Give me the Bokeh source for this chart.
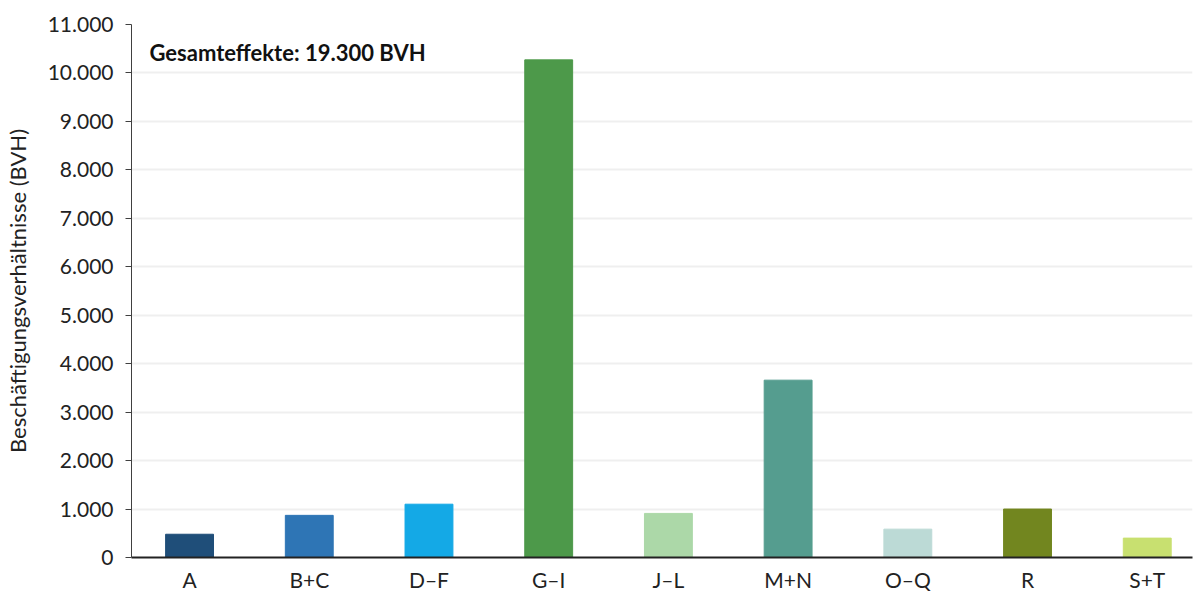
from bokeh.plotting import figure
from bokeh.models import Range1d, FixedTicker, Label, ColumnDataSource
from bokeh.embed import file_html
from bokeh.resources import INLINE

categories = ["A", "B+C", "D–F", "G–I", "J–L", "M+N", "O–Q", "R", "S+T"]
values = [480, 870, 1100, 10270, 910, 3660, 585, 1000, 400]
colors = ["#1f4e79", "#2e75b5", "#14a9e6", "#4d994a", "#acd8a8",
          "#559d8f", "#bcdad6", "#72861f", "#c8e070"]
y_ticks = list(range(0, 11001, 1000))
y_tick_labels = ["0", "1.000", "2.000", "3.000", "4.000", "5.000", "6.000",
                 "7.000", "8.000", "9.000", "10.000", "11.000"]
annotation = "Gesamteffekte: 19.300 BVH"
y_title = "Beschäftigungsverhältnisse (BVH)"

FONT = "Lato"

xs = list(range(len(categories)))
src = ColumnDataSource(dict(x=xs, top=values, color=colors))

p = figure(width=1194, height=594, output_backend="svg", toolbar_location=None,
           x_range=Range1d(-0.485, 8.378), y_range=Range1d(0, 11000),
           min_border_left=129, min_border_right=4, min_border_top=24,
           min_border_bottom=37)
p.frame_width = 1061
p.frame_height = 533
p.outline_line_color = None
p.background_fill_color = "white"

p.vbar(x="x", top="top", width=0.40, color="color", source=src)

p.xgrid.grid_line_color = None
p.ygrid.grid_line_color = "#efefef"
p.ygrid.grid_line_width = 2
p.ygrid.ticker = FixedTicker(ticks=y_ticks)

p.yaxis.ticker = FixedTicker(ticks=y_ticks)
p.yaxis.major_label_overrides = {t: l for t, l in zip(y_ticks, y_tick_labels)}
p.yaxis.minor_tick_line_color = None
p.yaxis.major_tick_out = 6
p.yaxis.major_tick_in = 0
p.yaxis.major_tick_line_color = "#404040"
p.yaxis.axis_line_color = "#404040"
p.yaxis.major_label_standoff = 12
p.yaxis.major_label_text_font = FONT
p.yaxis.major_label_text_font_size = "21px"
p.yaxis.major_label_text_color = "#222222"
p.yaxis.axis_label = y_title
p.yaxis.axis_label_text_font = FONT
p.yaxis.axis_label_text_font_size = "22px"
p.yaxis.axis_label_text_font_style = "normal"
p.yaxis.axis_label_text_color = "#222222"
p.yaxis.axis_label_standoff = 14

p.xaxis.ticker = FixedTicker(ticks=xs)
p.xaxis.major_label_overrides = {i: c for i, c in zip(xs, categories)}
p.xaxis.minor_tick_line_color = None
p.xaxis.major_tick_line_color = None
p.xaxis.major_tick_out = 0
p.xaxis.axis_line_color = "#222222"
p.xaxis.axis_line_width = 2
p.xaxis.major_label_standoff = 9
p.xaxis.major_label_text_font = FONT
p.xaxis.major_label_text_font_size = "21px"
p.xaxis.major_label_text_color = "#222222"

lbl = Label(x=-0.335, y=10700, text=annotation, text_font=FONT,
            text_font_size="22px", text_font_style="bold",
            text_baseline="top", text_color="#111111")
p.add_layout(lbl)

open("out.html", "w").write(file_html(p, INLINE))
